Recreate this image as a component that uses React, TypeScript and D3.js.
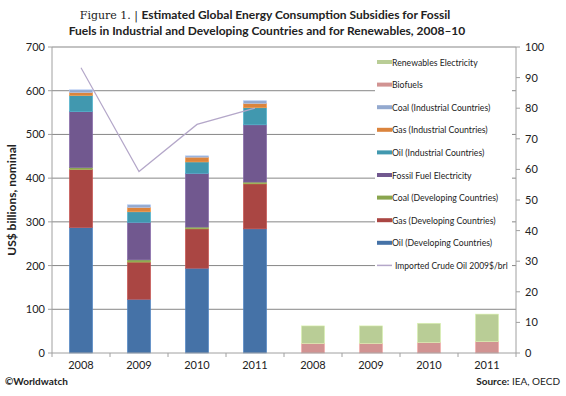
import React from "react";
import * as d3 from "d3";

const categories = ["2008", "2009", "2010", "2011"];
const renewYears = ["2008", "2009", "2010", "2011"];

// fossil fuel series (US$ billions), bottom to top
const oilDev = [287, 123, 194, 284];
const gasDev = [133, 85, 90, 103];
const coalDev = [4, 5, 4, 4];
const fossilElec = [128, 86, 123, 131];
const oilInd = [37, 24, 26, 39];
const gasInd = [7, 10, 11, 10];
const coalInd = [6, 6, 3, 6];

// renewables
const biofuels = [22, 22, 24, 26];
const renewElec = [40, 40, 44, 63];

// crude oil price, right axis
const crudeOil = [93.2, 59.3, 74.7, 80.0];

const leftTicks = [0, 100, 200, 300, 400, 500, 600, 700];
const rightTicks = [0, 10, 20, 30, 40, 50, 60, 70, 80, 90, 100];

const fossilSeries = [
  { name: "Oil (Developing Countries)", values: oilDev, color: "#4572a7" },
  { name: "Gas (Developing Countries)", values: gasDev, color: "#aa4643" },
  { name: "Coal (Developing Countries)", values: coalDev, color: "#89a54e" },
  { name: "Fossil Fuel Electricity", values: fossilElec, color: "#71588f" },
  { name: "Oil (Industrial Countries)", values: oilInd, color: "#4198af" },
  { name: "Gas (Industrial Countries)", values: gasInd, color: "#db843d" },
  { name: "Coal (Industrial Countries)", values: coalInd, color: "#93a9cf" },
];
const renewSeries = [
  { name: "Biofuels", values: biofuels, color: "#d19392" },
  { name: "Renewables Electricity", values: renewElec, color: "#b9cd96" },
];
const lineColor = "#b4a7c9";

const W = 566;
const H = 396;
const m = { left: 52, right: 516, top: 47, bottom: 353 };
const font = "Lato, 'Open Sans', sans-serif";

export default function App() {
  const bands = [...categories.map((c) => "f" + c), ...renewYears.map((c) => "r" + c)];
  const x = d3.scaleBand().domain(bands).range([m.left, m.right]).paddingInner(0.6).paddingOuter(0.3);
  const y = d3.scaleLinear().domain([0, 700]).range([m.bottom, m.top]);
  const y2 = d3.scaleLinear().domain([0, 100]).range([m.bottom, m.top]);

  const stackRects = (series, prefix, years) => {
    const out = [];
    years.forEach((yr, i) => {
      let base = 0;
      series.forEach((s) => {
        const v = s.values[i];
        out.push(
          <rect
            key={prefix + yr + s.name}
            x={x(prefix + yr)}
            y={y(base + v)}
            width={x.bandwidth()}
            height={y(base) - y(base + v)}
            fill={s.color}
            stroke={d3.color(s.color).brighter(0.5).toString()}
            strokeWidth={0.6}
          />
        );
        base += v;
      });
    });
    return out;
  };

  const line = d3
    .line<number>()
    .x((_, i) => x("f" + categories[i]) + x.bandwidth() / 2)
    .y((d) => y2(d));

  const legendItems = [
    ...renewSeries.slice().reverse(),
    ...fossilSeries.slice().reverse(),
  ];
  const step = x.step();

  return (
    <svg width={W} height={H} style={{ position: "absolute", left: 0, top: 0, background: "#fff" }}>
      <text x={265} y={19} textAnchor="middle" fontSize={12} fill="#222">
        <tspan fontFamily="'DejaVu Serif', serif" fontSize={11}>Figure 1. | </tspan>
        <tspan fontFamily={font} fontWeight="bold">Estimated Global Energy Consumption Subsidies for Fossil</tspan>
      </text>
      <text x={267} y={35} textAnchor="middle" fontSize={12} fontFamily={font} fontWeight="bold" fill="#222">
        Fuels in Industrial and Developing Countries and for Renewables, 2008–10
      </text>

      {leftTicks.slice(1).map((t) => (
        <line key={"g" + t} x1={m.left} x2={m.right} y1={y(t)} y2={y(t)} stroke="#878787" strokeWidth={1} />
      ))}

      {stackRects(fossilSeries, "f", categories)}
      {stackRects(renewSeries, "r", renewYears)}

      <path d={line(crudeOil)} fill="none" stroke={lineColor} strokeWidth={1.2} />

      {/* axes */}
      <line x1={m.left} x2={m.left} y1={m.top} y2={m.bottom} stroke="#a0a0a0" />
      <line x1={m.right} x2={m.right} y1={m.top} y2={m.bottom} stroke="#a0a0a0" />
      <line x1={m.left} x2={m.right} y1={m.bottom} y2={m.bottom} stroke="#a0a0a0" />
      {leftTicks.map((t) => (
        <g key={"l" + t}>
          <line x1={m.left - 4} x2={m.left} y1={y(t)} y2={y(t)} stroke="#a0a0a0" />
          <text x={m.left - 7} y={y(t) + 4} textAnchor="end" fontSize={11} fontFamily={font} fill="#222">{t}</text>
        </g>
      ))}
      {rightTicks.map((t) => (
        <g key={"r" + t}>
          <line x1={m.right} x2={m.right + 4} y1={y2(t)} y2={y2(t)} stroke="#a0a0a0" />
          <text x={m.right + 9} y={y2(t) + 4} textAnchor="start" fontSize={11} fontFamily={font} fill="#222">{t}</text>
        </g>
      ))}
      {bands.map((b, i) => (
        <g key={"x" + b}>
          <line x1={m.left + step * i} x2={m.left + step * i} y1={m.bottom} y2={m.bottom + 4} stroke="#a0a0a0" />
          <text x={x(b) + x.bandwidth() / 2} y={m.bottom + 16} textAnchor="middle" fontSize={11} fontFamily={font} fill="#222">
            {b.slice(1)}
          </text>
        </g>
      ))}
      <line x1={m.right} x2={m.right} y1={m.bottom} y2={m.bottom + 4} stroke="#a0a0a0" />

      <text
        transform={`translate(16,${(m.top + m.bottom) / 2}) rotate(-90)`}
        textAnchor="middle"
        fontSize={12}
        fontFamily={font}
        fontWeight="bold"
        fill="#222"
      >
        US$ billions, nominal
      </text>

      {/* legend */}
      <rect x={375} y={51} width={137} height={225} fill="#fff" />
      {legendItems.map((s, i) => (
        <g key={"lg" + s.name} transform={`translate(377,${62 + i * 22.6})`}>
          <rect x={0} y={-2} width={15} height={4} fill={s.color} />
          <text x={15} y={3.5} fontSize={8.7} fontFamily={font} fill="#222">{s.name}</text>
        </g>
      ))}
      <g transform={`translate(377,${62 + legendItems.length * 22.6})`}>
        <line x1={0} x2={15} y1={0} y2={0} stroke={lineColor} strokeWidth={1.5} />
        <text x={18} y={3.5} fontSize={8.5} fontFamily={font} fill="#222">Imported Crude Oil 2009$/brl</text>
      </g>

      <text x={5} y={385} fontSize={10} fontFamily={font} fontWeight="bold" fill="#222">©Worldwatch</text>
      <text x={560} y={385} textAnchor="end" fontSize={10} fontFamily={font} fill="#222">
        <tspan fontWeight="bold">Source:</tspan> IEA, OECD
      </text>
    </svg>
  );
}
